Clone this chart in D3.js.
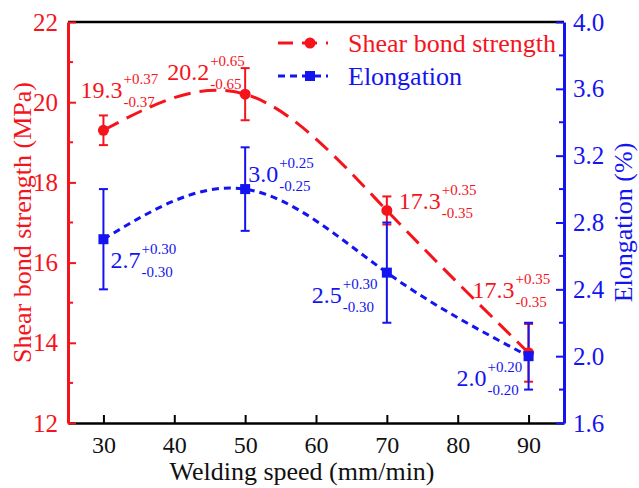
<!DOCTYPE html>
<html>
<head>
<meta charset="utf-8">
<script src="https://cdn.jsdelivr.net/npm/d3@7"></script>
<style>
  body { margin: 0; background: #fff; }
  svg text { font-family: 'Liberation Serif', 'Times New Roman', serif; }
</style>
</head>
<body>
<div id="canvas"></div>
<script>
"use strict"

/* Data */
let speeds = [30, 50, 70, 90];                 // welding speed (mm/min)
let strength = [19.3, 20.2, 17.3, 13.75];       // shear bond strength (MPa), plotted
let strengthErr = [0.37, 0.65, 0.35, 0.72];     // plotted error bars
let strengthText = ["19.3", "20.2", "17.3", "17.3"];
let strengthErrText = ["0.37", "0.65", "0.35", "0.35"];
let elongation = [2.7, 3.0, 2.5, 2.0];          // elongation (%)
let elongationErr = [0.30, 0.25, 0.30, 0.20];
let elongationText = ["2.7", "3.0", "2.5", "2.0"];
let elongationErrText = ["0.30", "0.25", "0.30", "0.20"];

let xTicks = [30, 40, 50, 60, 70, 80, 90];
let leftTicks = [12, 14, 16, 18, 20, 22];
let rightTicks = [1.6, 2.0, 2.4, 2.8, 3.2, 3.6, 4.0];

/* Drawing config */
let svgWidth = 639;
let svgHeight = 488;
let margin = { top: 22, right: 75, bottom: 65, left: 68 };
let red = "#f5141c";
let blue = "#1414f0";
let serif = "'Liberation Serif', 'Times New Roman', serif";
let redDash = "17,9";
let blueDash = "7,5";

/* label offsets from each point (px) */
let strengthLabelPos = [[-23, -32], [-78, -14], [12, -1], [-56, -55]];
let elongationLabelPos = [[7, 29], [3, -7], [-75, 30], [-72, 30]];

let svg = d3.select("#canvas")
    .append("svg")
    .attr("width", svgWidth)
    .attr("height", svgHeight);

let xScale = d3.scaleLinear()
    .domain([25, 95])
    .range([margin.left, svgWidth - margin.right]);

let yLeft = d3.scaleLinear()
    .domain([12, 22])
    .range([svgHeight - margin.bottom, margin.top]);

let yRight = d3.scaleLinear()
    .domain([1.6, 4.0])
    .range([svgHeight - margin.bottom, margin.top]);

let x0 = margin.left, x1 = svgWidth - margin.right;
let y0 = svgHeight - margin.bottom, y1 = margin.top;

/* top frame line */
svg.append("line")
    .attr("x1", x0).attr("x2", x1)
    .attr("y1", y1).attr("y2", y1)
    .attr("stroke", "black")
    .attr("stroke-width", 2.5);

/* bottom axis (ticks inside) */
let xAxis = svg.append("g")
    .attr("transform", "translate(0," + y0 + ")")
    .call(d3.axisBottom(xScale).tickValues(xTicks).tickSizeInner(-8).tickSizeOuter(0).tickPadding(13));
xAxis.select(".domain").attr("stroke", "black").attr("stroke-width", 2.5);
xAxis.selectAll(".tick line").attr("stroke", "black").attr("stroke-width", 2);
xAxis.selectAll(".tick text")
    .attr("font-size", 24)
    .style("font-family", serif)
    .attr("fill", "#111");

/* left axis */
let leftAxis = svg.append("g")
    .attr("transform", "translate(" + x0 + ",0)")
    .call(d3.axisLeft(yLeft).tickValues(leftTicks).tickSizeInner(-8).tickSizeOuter(0).tickPadding(10));
leftAxis.select(".domain").attr("stroke", red).attr("stroke-width", 3);
leftAxis.selectAll(".tick line").attr("stroke", red).attr("stroke-width", 2);
leftAxis.selectAll(".tick text")
    .attr("font-size", 25)
    .style("font-family", serif)
    .attr("fill", red);

// minor ticks left
svg.append("g").selectAll("line")
    .data(d3.range(13, 22, 2))
    .join("line")
    .attr("x1", x0).attr("x2", x0 + 5)
    .attr("y1", d => yLeft(d)).attr("y2", d => yLeft(d))
    .attr("stroke", red).attr("stroke-width", 2);

/* right axis */
let rightAxis = svg.append("g")
    .attr("transform", "translate(" + x1 + ",0)")
    .call(d3.axisRight(yRight).tickValues(rightTicks).tickFormat(d3.format(".1f")).tickSizeInner(-8).tickSizeOuter(0).tickPadding(9));
rightAxis.select(".domain").attr("stroke", blue).attr("stroke-width", 3);
rightAxis.selectAll(".tick line").attr("stroke", blue).attr("stroke-width", 2);
rightAxis.selectAll(".tick text")
    .attr("font-size", 25)
    .style("font-family", serif)
    .attr("fill", blue);

// minor ticks right
svg.append("g").selectAll("line")
    .data([1.8, 2.2, 2.6, 3.0, 3.4, 3.8])
    .join("line")
    .attr("x1", x1).attr("x2", x1 - 5)
    .attr("y1", d => yRight(d)).attr("y2", d => yRight(d))
    .attr("stroke", blue).attr("stroke-width", 2);

/* axis titles */
svg.append("text")
    .attr("x", 302)
    .attr("y", 480)
    .attr("text-anchor", "middle")
    .attr("font-size", 26)
    .attr("fill", "#111")
    .text("Welding speed (mm/min)");

svg.append("text")
    .attr("transform", "translate(31," + ((y0 + y1) / 2) + ") rotate(-90)")
    .attr("text-anchor", "middle")
    .attr("font-size", 26)
    .attr("fill", red)
    .text("Shear bond strength (MPa)");

svg.append("text")
    .attr("transform", "translate(632," + ((y0 + y1) / 2) + ") rotate(-90)")
    .attr("text-anchor", "middle")
    .attr("font-size", 26)
    .attr("fill", blue)
    .text("Elongation (%)");

/* smooth lines */
let strengthPts = speeds.map((s, i) => [xScale(s), yLeft(strength[i])]);
let elongPts = speeds.map((s, i) => [xScale(s), yRight(elongation[i])]);
let lineGen = d3.line().curve(d3.curveNatural);

svg.append("path")
    .attr("d", lineGen(strengthPts))
    .attr("fill", "none")
    .attr("stroke", red)
    .attr("stroke-width", 3)
    .attr("stroke-dasharray", redDash);

svg.append("path")
    .attr("d", lineGen(elongPts))
    .attr("fill", "none")
    .attr("stroke", blue)
    .attr("stroke-width", 3)
    .attr("stroke-dasharray", blueDash);

/* error bars */
function errorBars(values, errs, scale, color) {
    let g = svg.append("g").attr("stroke", color).attr("stroke-width", 2);
    values.forEach(function (v, i) {
        let cx = xScale(speeds[i]);
        let top = scale(v + errs[i]);
        let bot = scale(v - errs[i]);
        g.append("line").attr("x1", cx).attr("x2", cx).attr("y1", top).attr("y2", bot);
        g.append("line").attr("x1", cx - 4.5).attr("x2", cx + 4.5).attr("y1", top).attr("y2", top);
        g.append("line").attr("x1", cx - 4.5).attr("x2", cx + 4.5).attr("y1", bot).attr("y2", bot);
    });
}
errorBars(strength, strengthErr, yLeft, red);
errorBars(elongation, elongationErr, yRight, blue);

/* markers */
svg.append("g").selectAll("circle")
    .data(strengthPts)
    .join("circle")
    .attr("cx", d => d[0])
    .attr("cy", d => d[1])
    .attr("r", 5.5)
    .attr("fill", red);

svg.append("g").selectAll("rect")
    .data(elongPts)
    .join("rect")
    .attr("x", d => d[0] - 5)
    .attr("y", d => d[1] - 5)
    .attr("width", 10)
    .attr("height", 10)
    .attr("fill", blue);

/* value labels with +/- errors */
function valueLabel(px, py, main, err, color) {
    let t = svg.append("text")
        .attr("x", px)
        .attr("y", py)
        .attr("font-size", 24)
        .attr("fill", color)
        .text(main);
    let w = t.node().getComputedTextLength();
    svg.append("text")
        .attr("x", px + w + 1)
        .attr("y", py - 14)
        .attr("font-size", 15)
        .attr("fill", color)
        .text("+" + err);
    svg.append("text")
        .attr("x", px + w + 1)
        .attr("y", py + 9)
        .attr("font-size", 15)
        .attr("fill", color)
        .text("-" + err);
}
strengthPts.forEach(function (p, i) {
    valueLabel(p[0] + strengthLabelPos[i][0], p[1] + strengthLabelPos[i][1],
        strengthText[i], strengthErrText[i], red);
});
elongPts.forEach(function (p, i) {
    valueLabel(p[0] + elongationLabelPos[i][0], p[1] + elongationLabelPos[i][1],
        elongationText[i], elongationErrText[i], blue);
});

/* legend */
let legendX = 278;
let legend = [
    { name: "Shear bond strength", color: red, dash: "15,9", y: 43, shape: "circle" },
    { name: "Elongation", color: blue, dash: "7,5", y: 76, shape: "square" }
];
legend.forEach(function (l) {
    svg.append("line")
        .attr("x1", legendX).attr("x2", legendX + 50)
        .attr("y1", l.y).attr("y2", l.y)
        .attr("stroke", l.color)
        .attr("stroke-width", 3)
        .attr("stroke-dasharray", l.dash);
    if (l.shape === "circle") {
        svg.append("circle").attr("cx", legendX + 32).attr("cy", l.y).attr("r", 5.5).attr("fill", l.color);
    } else {
        svg.append("rect").attr("x", legendX + 27).attr("y", l.y - 5).attr("width", 10).attr("height", 10).attr("fill", l.color);
    }
    svg.append("text")
        .attr("x", legendX + 70)
        .attr("y", l.y + 9)
        .attr("font-size", 26)
        .attr("fill", l.color)
        .text(l.name);
});
</script>
</body>
</html>
